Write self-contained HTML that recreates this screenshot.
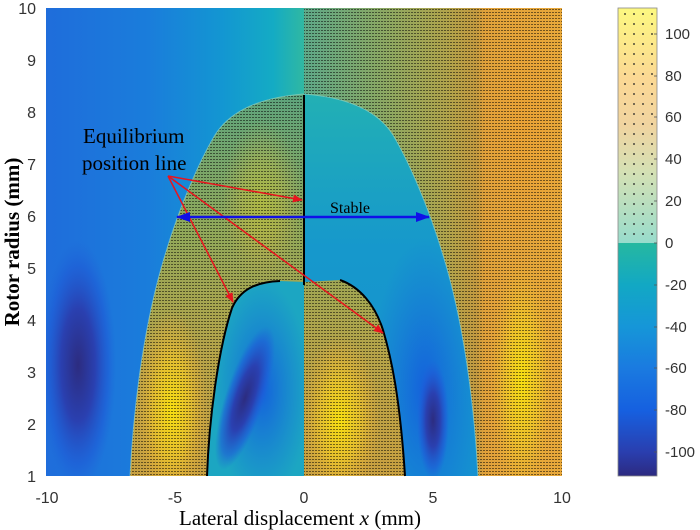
<!DOCTYPE html>
<html><head><meta charset="utf-8"><style>
html,body{margin:0;padding:0;background:#fff;}
svg{display:block;}
</style></head><body>
<svg width="700" height="530" viewBox="0 0 700 530" xmlns="http://www.w3.org/2000/svg">
<defs>
<pattern id="dots" width="3" height="3" patternUnits="userSpaceOnUse">
<rect x="0" y="0" width="2" height="1" fill="#000" opacity="0.5"/>
</pattern>
<pattern id="cbdots" width="9" height="10" patternUnits="userSpaceOnUse">
<rect x="3" y="3" width="2" height="2" fill="#222" opacity="0.6"/>
</pattern>
<linearGradient id="leftBlue" x1="46" y1="0" x2="304" y2="0" gradientUnits="userSpaceOnUse">
<stop offset="0" stop-color="#1f6ddb"/>
<stop offset="0.4" stop-color="#1a7ddb"/>
<stop offset="0.68" stop-color="#1396d2"/>
<stop offset="0.88" stop-color="#14abc4"/>
<stop offset="1" stop-color="#30b8a2"/>
</linearGradient>
<radialGradient id="blobL" cx="0.5" cy="0.5" r="0.5">
<stop offset="0" stop-color="#2c2c80"/>
<stop offset="0.45" stop-color="#2a40b0"/>
<stop offset="0.8" stop-color="#1f5bd6" stop-opacity="0.6"/>
<stop offset="1" stop-color="#1f64d8" stop-opacity="0"/>
</radialGradient>
<linearGradient id="rightHatch" x1="304" y1="0" x2="562" y2="0" gradientUnits="userSpaceOnUse">
<stop offset="0" stop-color="#5ea888"/>
<stop offset="0.3" stop-color="#8aa864"/>
<stop offset="0.55" stop-color="#b0a44c"/>
<stop offset="0.67" stop-color="#c49a40"/>
<stop offset="0.7" stop-color="#e2a23a"/>
<stop offset="1" stop-color="#e8a83a"/>
</linearGradient>
<radialGradient id="yel" cx="0.5" cy="0.5" r="0.5">
<stop offset="0" stop-color="#f8e010"/>
<stop offset="0.5" stop-color="#f0c828" stop-opacity="0.75"/>
<stop offset="1" stop-color="#e8a83a" stop-opacity="0"/>
</radialGradient>
<radialGradient id="orn" cx="0.5" cy="0.5" r="0.5">
<stop offset="0" stop-color="#f0a030"/>
<stop offset="1" stop-color="#f0a030" stop-opacity="0"/>
</radialGradient>
<linearGradient id="leftHatch" x1="0" y1="95" x2="0" y2="476" gradientUnits="userSpaceOnUse">
<stop offset="0" stop-color="#5ea47c"/>
<stop offset="0.35" stop-color="#90a85a"/>
<stop offset="0.7" stop-color="#b8a448"/>
<stop offset="1" stop-color="#c8a040"/>
</linearGradient>
<linearGradient id="domeR" x1="0" y1="95" x2="0" y2="476" gradientUnits="userSpaceOnUse">
<stop offset="0" stop-color="#22b0b4"/>
<stop offset="0.4" stop-color="#1698cc"/>
<stop offset="1" stop-color="#1590d0"/>
</linearGradient>
<radialGradient id="blueR" cx="0.5" cy="0.5" r="0.5">
<stop offset="0" stop-color="#1560dc"/>
<stop offset="1" stop-color="#1570dc" stop-opacity="0"/>
</radialGradient>
<linearGradient id="cbTop" x1="0" y1="8" x2="0" y2="243" gradientUnits="userSpaceOnUse">
<stop offset="0" stop-color="#fcf880"/>
<stop offset="0.3" stop-color="#fbd894"/>
<stop offset="0.5" stop-color="#f0d4a0"/>
<stop offset="0.7" stop-color="#d4e0b4"/>
<stop offset="1" stop-color="#98dccc"/>
</linearGradient>
<linearGradient id="cbBot" x1="0" y1="243" x2="0" y2="476" gradientUnits="userSpaceOnUse">
<stop offset="0" stop-color="#26b8a0"/>
<stop offset="0.18" stop-color="#12a8c4"/>
<stop offset="0.36" stop-color="#1696d8"/>
<stop offset="0.54" stop-color="#1a7ae0"/>
<stop offset="0.72" stop-color="#1660e0"/>
<stop offset="0.9" stop-color="#2a3eae"/>
<stop offset="1" stop-color="#2c2a80"/>
</linearGradient>
<clipPath id="dome"><path d="M130,476 C134,400 145,320 165,255 C180,205 200,160 215,135 C232,108 265,97 304,94 C343,97 376,108 393,135 C408,160 428,205 443,255 C463,320 474,400 478,476 Z"/></clipPath>
<clipPath id="leftHalf"><rect x="46" y="8" width="258" height="468"/></clipPath>
<clipPath id="rightHalf"><rect x="304" y="8" width="258" height="468"/></clipPath>
<clipPath id="archL"><path d="M207,476 C209,420 218,350 232,308 C240,290 255,282 280,281 L304,282 L304,476 Z"/></clipPath>
<clipPath id="archR"><path d="M304,476 L304,282 L340,280 C360,287 375,305 383,330 C392,360 400,400 405,476 Z"/></clipPath>
<marker id="ar" markerWidth="10" markerHeight="8" refX="9" refY="4" orient="auto" markerUnits="userSpaceOnUse"><path d="M0,0 L10,4 L0,8 Z" fill="#e8141e"/></marker>
<marker id="ab" markerWidth="14" markerHeight="10" refX="13" refY="5" orient="auto" markerUnits="userSpaceOnUse"><path d="M0,0 L14,5 L0,10 Z" fill="#1010e8"/></marker>
<marker id="ab2" markerWidth="14" markerHeight="10" refX="1" refY="5" orient="auto" markerUnits="userSpaceOnUse"><path d="M14,0 L0,5 L14,10 Z" fill="#1010e8"/></marker>
</defs>

<g clip-path="url(#leftHalf)">
<rect x="46" y="8" width="258" height="468" fill="url(#leftBlue)"/>
<ellipse cx="78" cy="365" rx="38" ry="125" fill="url(#blobL)"/>
</g>
<g clip-path="url(#rightHalf)">
<rect x="304" y="8" width="258" height="468" fill="url(#rightHatch)"/>
<ellipse cx="522" cy="380" rx="34" ry="130" fill="url(#yel)"/>
<ellipse cx="525" cy="130" rx="40" ry="120" fill="url(#orn)" opacity="0.5"/>
<rect x="304" y="8" width="258" height="468" fill="url(#dots)"/>
</g>
<g clip-path="url(#dome)">
<g clip-path="url(#leftHalf)">
<rect x="46" y="8" width="258" height="468" fill="url(#leftHatch)"/>
<ellipse cx="172" cy="410" rx="36" ry="100" fill="url(#yel)"/>
<ellipse cx="262" cy="200" rx="40" ry="80" fill="url(#yel)" opacity="0.35"/>
<rect x="46" y="8" width="258" height="468" fill="url(#dots)"/>
</g>
<g clip-path="url(#rightHalf)">
<rect x="304" y="8" width="258" height="468" fill="url(#domeR)"/>
<ellipse cx="425" cy="390" rx="55" ry="150" fill="url(#blueR)"/>
<ellipse cx="433" cy="420" rx="16" ry="60" fill="url(#blobL)"/>
</g>
</g>
<path d="M130,476 C134,400 145,320 165,255 C180,205 200,160 215,135 C232,108 265,97 304,94 C343,97 376,108 393,135 C408,160 428,205 443,255 C463,320 474,400 478,476" fill="none" stroke="#9ad8c8" stroke-width="1" opacity="0.6"/>
<g clip-path="url(#archL)">
<rect x="200" y="270" width="110" height="210" fill="#1ca6c2"/>
<ellipse cx="262" cy="390" rx="48" ry="110" fill="url(#blueR)"/>
<ellipse cx="245" cy="398" rx="20" ry="75" fill="url(#blobL)" transform="rotate(18 245 398)"/>
</g>
<g clip-path="url(#archR)">
<rect x="300" y="270" width="110" height="210" fill="url(#leftHatch)"/>
<ellipse cx="340" cy="420" rx="40" ry="85" fill="url(#yel)"/>
<rect x="300" y="270" width="110" height="210" fill="url(#dots)"/>
</g>
<path d="M207,476 C209,420 218,350 232,308 C240,290 255,282 280,281" fill="none" stroke="#000" stroke-width="2"/>
<path d="M340,280 C360,287 375,305 383,330 C392,360 400,400 405,476" fill="none" stroke="#000" stroke-width="2"/>
<line x1="304" y1="95" x2="304" y2="285" stroke="#000" stroke-width="2"/>
<g stroke="#e8141e" stroke-width="1.5" fill="none">
<line x1="168" y1="176" x2="302" y2="200" marker-end="url(#ar)"/>
<line x1="168" y1="176" x2="233" y2="302" marker-end="url(#ar)"/>
<line x1="168" y1="176" x2="383" y2="333" marker-end="url(#ar)"/>
</g>
<line x1="177" y1="217" x2="429" y2="217" stroke="#1010e8" stroke-width="2.5" marker-end="url(#ab)" marker-start="url(#ab2)"/>
<text x="330" y="213" font-family="Liberation Serif, serif" font-size="16" fill="#000">Stable</text>
<text x="83" y="143" font-family="Liberation Serif, serif" font-size="21" fill="#000">Equilibrium</text>
<text x="82" y="170" font-family="Liberation Serif, serif" font-size="21" fill="#000">position line</text>

<g font-family="Liberation Sans, sans-serif" font-size="16" fill="#333" text-anchor="end">
<text x="36" y="14">10</text><text x="36" y="66">9</text><text x="36" y="118">8</text><text x="36" y="170">7</text><text x="36" y="222">6</text><text x="36" y="274">5</text><text x="36" y="326">4</text><text x="36" y="378">3</text><text x="36" y="430">2</text><text x="36" y="482">1</text>
</g>
<g font-family="Liberation Sans, sans-serif" font-size="16" fill="#333" text-anchor="middle">
<text x="47" y="503">-10</text><text x="175" y="503">-5</text><text x="304" y="503">0</text><text x="433" y="503">5</text><text x="562" y="503">10</text>
</g>
<text x="300" y="525" font-family="Liberation Serif, serif" font-size="21" fill="#000" text-anchor="middle">Lateral displacement <tspan font-style="italic">x</tspan>  (mm)</text>
<text transform="translate(19,242) rotate(-90)" font-family="Liberation Serif, serif" font-size="21" font-weight="bold" fill="#000" text-anchor="middle">Rotor radius  (mm)</text>

<rect x="618" y="8" width="39" height="235" fill="url(#cbTop)"/>
<rect x="618" y="8" width="39" height="235" fill="url(#cbdots)"/>
<rect x="618" y="243" width="39" height="233" fill="url(#cbBot)"/>
<rect x="618" y="8" width="39" height="468" fill="none" stroke="#888" stroke-width="0.8"/>
<g stroke="#555" stroke-width="0.8">
<line x1="654" y1="34" x2="657" y2="34"/><line x1="654" y1="76" x2="657" y2="76"/><line x1="654" y1="117" x2="657" y2="117"/><line x1="654" y1="159" x2="657" y2="159"/><line x1="654" y1="201" x2="657" y2="201"/><line x1="654" y1="243" x2="657" y2="243"/><line x1="654" y1="285" x2="657" y2="285"/><line x1="654" y1="327" x2="657" y2="327"/><line x1="654" y1="368" x2="657" y2="368"/><line x1="654" y1="410" x2="657" y2="410"/><line x1="654" y1="452" x2="657" y2="452"/>
</g>
<g font-family="Liberation Sans, sans-serif" font-size="15" fill="#333">
<text x="665" y="39">100</text><text x="665" y="81">80</text><text x="665" y="122">60</text><text x="665" y="164">40</text><text x="665" y="206">20</text><text x="665" y="248">0</text><text x="665" y="290">-20</text><text x="665" y="332">-40</text><text x="665" y="373">-60</text><text x="665" y="415">-80</text><text x="665" y="457">-100</text>
</g>
</svg>
</body></html>
